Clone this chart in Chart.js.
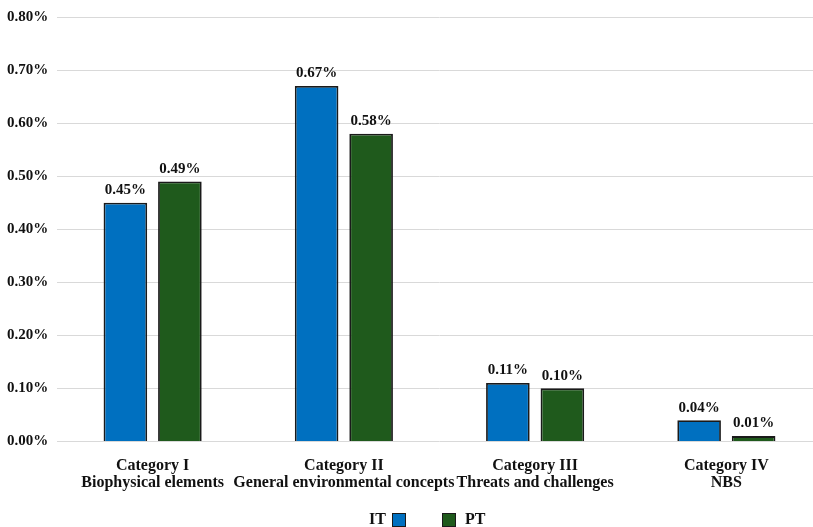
<!DOCTYPE html>
<html>
<head>
<meta charset="utf-8">
<script src="https://cdn.jsdelivr.net/npm/chart.js@4/dist/chart.umd.min.js"></script>
<style>
  html, body { margin: 0; padding: 0; background: #fff; overflow: hidden; }
  #wrap { position: relative; width: 822px; height: 527px; }
  .legend { position: absolute; top: 511px; font: bold 16px "Liberation Serif", serif; color: #111; line-height: 16px; }
  .box { position: absolute; top: 513px; width: 12px; height: 12px; border: 1px solid #1a1a1a; }
</style>
</head>
<body>
<div id="wrap">
  <canvas id="chart" width="822" height="527"></canvas>
  <span class="legend" style="left:369px">IT</span>
  <span class="box" style="left:392px;background:#0070C0"></span>
  <span class="box" style="left:442px;background:#1F5A1C"></span>
  <span class="legend" style="left:465px">PT</span>
</div>
<script>
// category labels (two lines each)
const categories = [
    ["Category I", "Biophysical elements"],
    ["Category II", "General environmental concepts"],
    ["Category III", "Threats and challenges"],
    ["Category IV", "NBS"]
];

// shares in percent
const itValues = [0.45, 0.67, 0.11, 0.04];
const ptValues = [0.49, 0.58, 0.10, 0.01];

const yTicks = [0, 0.1, 0.2, 0.3, 0.4, 0.5, 0.6, 0.7, 0.8];

const serif = '"Liberation Serif", "Times New Roman", serif';

// value labels on top of the bars
const barLabels = {
    id: 'barLabels',
    afterDatasetsDraw(chart) {
        const ctx = chart.ctx;
        ctx.save();
        ctx.font = 'bold 15px ' + serif;
        ctx.fillStyle = '#111';
        ctx.textAlign = 'center';
        ctx.textBaseline = 'bottom';
        chart.data.datasets.forEach((ds, i) => {
            chart.getDatasetMeta(i).data.forEach((bar, j) => {
                ctx.fillText(ds.data[j].toFixed(2) + '%', bar.x, bar.y - 5);
            });
        });
        ctx.restore();
    }
};

const ctx = document.getElementById('chart').getContext('2d');
new Chart(ctx, {
    type: 'bar',
    data: {
        labels: categories,
        datasets: [
            {
                label: 'IT',
                data: itValues,
                backgroundColor: '#0070C0',
                borderColor: '#1a1a1a',
                borderWidth: 1.8
            },
            {
                label: 'PT',
                data: ptValues,
                backgroundColor: '#1F5A1C',
                borderColor: '#1a1a1a',
                borderWidth: 1.8
            }
        ]
    },
    options: {
        responsive: false,
        animation: false,
        categoryPercentage: 0.57,
        barPercentage: 0.8,
        layout: { padding: { left: 7, top: 7, right: 0, bottom: 28 } },
        plugins: {
            legend: { display: false },
            tooltip: { enabled: false }
        },
        scales: {
            x: {
                grid: { display: false },
                border: { display: false },
                ticks: {
                    color: '#111',
                    font: { family: serif, size: 16, weight: 'bold', lineHeight: 1.05 },
                    padding: 8,
                    maxRotation: 0,
                    autoSkip: false
                }
            },
            y: {
                min: 0,
                max: 0.8,
                afterBuildTicks: (scale) => {
                    scale.ticks = yTicks.map(v => ({ value: v }));
                },
                afterFit: (scale) => { scale.width = 50; },
                grid: { color: '#d9d9d9', lineWidth: 1, drawTicks: false },
                border: { display: false },
                ticks: {
                    color: '#111',
                    crossAlign: 'far',
                    padding: 8,
                    font: { family: serif, size: 15, weight: 'bold' },
                    callback: (v) => v.toFixed(2) + '%'
                }
            }
        }
    },
    plugins: [barLabels]
});
</script>
</body>
</html>
